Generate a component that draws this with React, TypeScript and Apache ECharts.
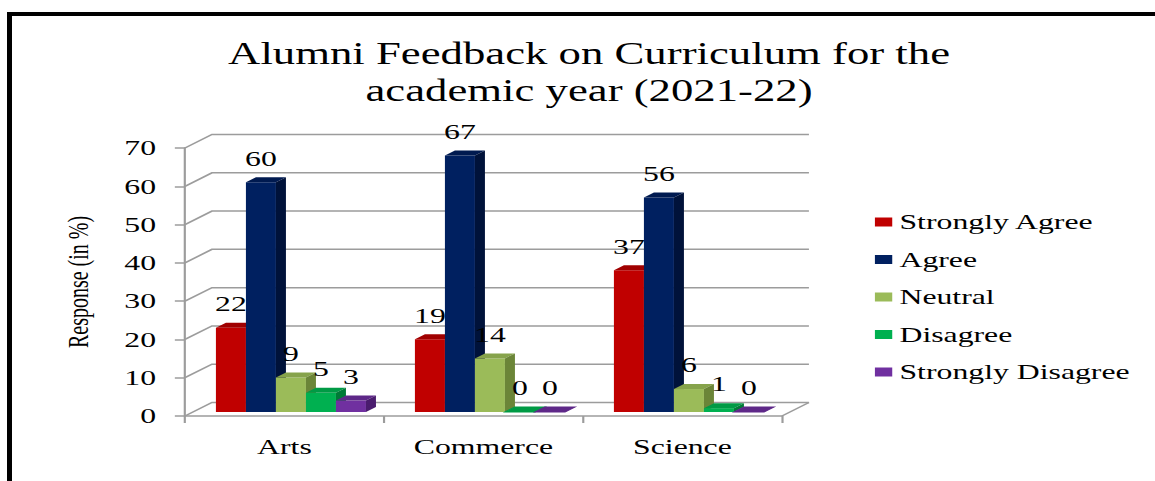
import React, { useEffect, useRef } from "react";
import * as echarts from "echarts";

const CATEGORIES = ["Arts", "Commerce", "Science"];
const SERIES_NAMES = ["Strongly Agree", "Agree", "Neutral", "Disagree", "Strongly Disagree"];
const STRONGLY_AGREE = [22, 19, 37];
const AGREE = [60, 67, 56];
const NEUTRAL = [9, 14, 6];
const DISAGREE = [5, 0, 1];
const STRONGLY_DISAGREE = [3, 0, 0];
const SERIES_VALUES = [STRONGLY_AGREE, AGREE, NEUTRAL, DISAGREE, STRONGLY_DISAGREE];
const Y_TICKS = [0, 10, 20, 30, 40, 50, 60, 70];
const TITLE = "Alumni Feedback on Curriculum for the\nacademic year (2021-22)";
const Y_NAME = "Response (in %)";

const FRONT = ["#C00000", "#002060", "#9BBB59", "#00B050", "#7030A0"];
const TOP = ["#A00000", "#001A50", "#86A34B", "#009A45", "#5E2888"];
const SIDE = ["#800000", "#00123A", "#6B8538", "#007A36", "#4A1C6E"];

const FONT = '"Liberation Serif", "Times New Roman", serif';
const W = 800;
const H = 481;
const S = 1155 / W;

const DXW = 27 / S;
const DYW = -13.5;
const BAR_OFF_X = 6.5 / S;
const BAR_OFF_Y = -4;
const BAR_DX = 10 / S;
const BAR_DY = -5;
const GROUP_FRAC = 0.754;

export default function App() {
  const ref = useRef<HTMLDivElement>(null);
  useEffect(() => {
    if (!ref.current) return;
    const chart = echarts.init(ref.current, null, { renderer: "svg" });

    const barSeries = SERIES_NAMES.map((name, k) => ({
      type: "custom",
      name,
      itemStyle: { color: FRONT[k] },
      encode: { x: 0, y: 1 },
      data: SERIES_VALUES[k].map((v, i) => [i, v]),
      z: 2,
      renderItem: (params: any, api: any) => {
        const ci = api.value(0);
        const v = api.value(1);
        const base = api.coord([ci, 0]);
        const topP = api.coord([ci, v]);
        const band = api.size([1, 0])[0];
        const bw = (band * GROUP_FRAC) / SERIES_NAMES.length;
        const x0 = base[0] - (band * GROUP_FRAC) / 2 + k * bw + BAR_OFF_X;
        const x1 = x0 + bw;
        const yb = base[1] + BAR_OFF_Y;
        const yt = topP[1] + BAR_OFF_Y;
        return {
          type: "group",
          children: [
            {
              type: "polygon",
              shape: { points: [[x0, yb], [x1, yb], [x1, yt], [x0, yt]] },
              style: { fill: FRONT[k] },
            },
            {
              type: "polygon",
              shape: {
                points: [[x0, yt], [x1, yt], [x1 + BAR_DX, yt + BAR_DY], [x0 + BAR_DX, yt + BAR_DY]],
              },
              style: { fill: TOP[k], stroke: TOP[k], lineWidth: v === 0 ? 1 : 0 },
            },
            {
              type: "polygon",
              shape: {
                points: [[x1, yb], [x1, yt], [x1 + BAR_DX, yt + BAR_DY], [x1 + BAR_DX, yb + BAR_DY]],
              },
              style: { fill: SIDE[k] },
            },
            {
              type: "text",
              x: (x0 + x1) / 2,
              y: yt - 13,
              z2: 100,
              style: {
                text: String(v),
                fill: "#000",
                fontSize: 22,
                fontFamily: FONT,
                align: "center",
                verticalAlign: "bottom",
              },
            },
          ],
        };
      },
    }));

    const wallSeries = {
      type: "custom",
      name: "wall",
      silent: true,
      z: 1,
      encode: { x: 0, y: 1 },
      data: Y_TICKS.map((v) => [0, v]),
      renderItem: (params: any, api: any) => {
        const v = api.value(1);
        const cs = params.coordSys;
        const y = api.coord([0, v])[1];
        const gx = cs.x;
        const gr = cs.x + cs.width;
        const children: any[] = [
          {
            type: "polyline",
            shape: { points: [[gx, y], [gx + DXW, y + DYW], [gr + DXW, y + DYW]] },
            style: { stroke: "#9c9c9c", lineWidth: 1.5, fill: "none" },
          },
        ];
        if (v === 0) {
          children.push({
            type: "line",
            shape: { x1: gr, y1: y, x2: gr + DXW, y2: y + DYW },
            style: { stroke: "#9c9c9c", lineWidth: 1.5 },
          });
        }
        return { type: "group", children };
      },
    };

    chart.setOption({
      animation: false,
      backgroundColor: "#ffffff",
      title: {
        text: TITLE,
        left: 403,
        top: 30,
        textAlign: "center",
        textStyle: {
          fontFamily: FONT,
          fontSize: 31,
          fontWeight: "normal",
          color: "#000",
          lineHeight: 37,
        },
      },
      legend: {
        data: SERIES_NAMES,
        orient: "vertical",
        left: 601,
        top: 206,
        icon: "rect",
        itemWidth: 12,
        itemHeight: 9,
        itemGap: 15.5,
        textStyle: { fontFamily: FONT, fontSize: 22, color: "#000", lineHeight: 22 },
      },
      grid: { left: 128.1, right: 258.4, top: 148, bottom: 65 },
      xAxis: {
        type: "category",
        data: CATEGORIES,
        axisLine: { lineStyle: { color: "#9c9c9c", width: 1.5 } },
        axisTick: { show: true, length: 7, lineStyle: { color: "#9c9c9c", width: 1.5 } },
        axisLabel: { fontFamily: FONT, fontSize: 22, color: "#000", margin: 20 },
        splitLine: { show: false },
      },
      yAxis: {
        type: "value",
        min: 0,
        max: 70,
        interval: 10,
        name: Y_NAME,
        nameLocation: "middle",
        nameGap: 64,
        nameTextStyle: { fontFamily: FONT, fontSize: 20, color: "#000" },
        axisLine: { show: true, lineStyle: { color: "#9c9c9c", width: 1.5 } },
        axisTick: { show: true, length: 7, lineStyle: { color: "#9c9c9c", width: 1.5 } },
        axisLabel: { fontFamily: FONT, fontSize: 22, color: "#000", margin: 20 },
        splitLine: { show: false },
      },
      graphic: [
        {
          type: "line",
          shape: { x1: 9.5 / S, y1: 12, x2: 9.5 / S, y2: H },
          style: { stroke: "#000", lineWidth: 5 / S },
        },
        {
          type: "line",
          shape: { x1: 7 / S, y1: 14, x2: W, y2: 14 },
          style: { stroke: "#000", lineWidth: 4 },
        },
      ],
      series: [wallSeries, ...barSeries],
    });
    return () => chart.dispose();
  }, []);

  return (
    <div
      style={{
        position: "absolute",
        left: 0,
        top: 0,
        width: 1155,
        height: 481,
        overflow: "hidden",
        background: "#fff",
      }}
    >
      <div
        ref={ref}
        style={{
          width: W,
          height: H,
          transform: `scaleX(${S})`,
          transformOrigin: "0 0",
        }}
      />
    </div>
  );
}
